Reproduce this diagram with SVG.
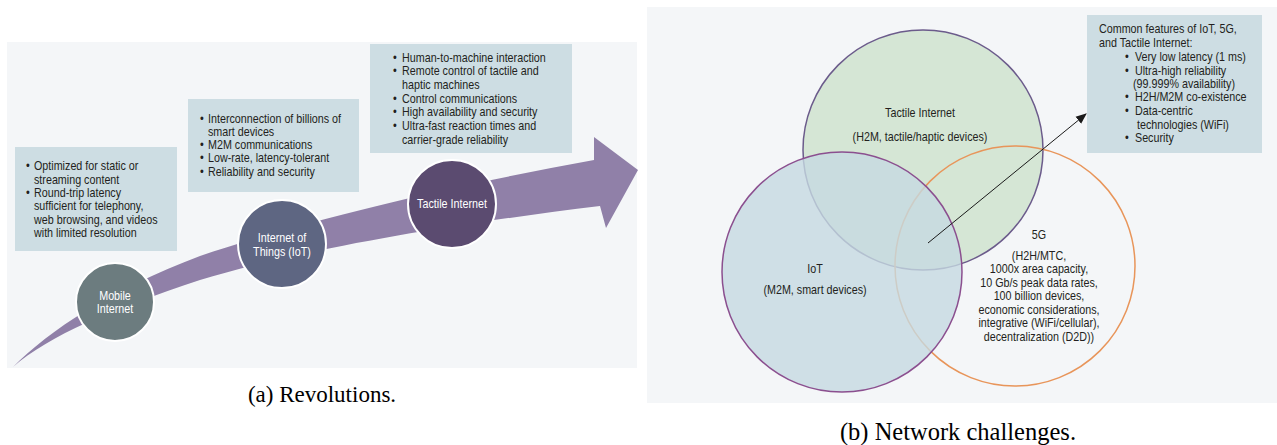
<svg xmlns="http://www.w3.org/2000/svg" width="1277" height="445" viewBox="0 0 1277 445">
<style>
.t{font-family:"Liberation Sans",Arial,sans-serif;font-size:12.5px;fill:#231f20}
.w{font-family:"Liberation Sans",Arial,sans-serif;font-size:12.5px;fill:#ffffff;text-anchor:middle}
.c{text-anchor:middle}
.cap{font-family:"Liberation Serif","Times New Roman",serif;fill:#000;text-anchor:middle}
.box{fill:#cddde3}
.bg{fill:#f4f6f8}
.node{stroke:#ffffff;stroke-width:2}
</style>
<defs>
<marker id="ah" viewBox="0 0 10 10" refX="9" refY="5" markerWidth="11" markerHeight="11" markerUnits="userSpaceOnUse" orient="auto">
<path d="M0,1 L10,5 L0,9 z" fill="#1a1a1a"/>
</marker>
</defs>
<rect width="1277" height="445" fill="#ffffff"/>
<rect class="bg" x="7" y="42" width="630" height="326"/>
<rect class="bg" x="647" y="7" width="630" height="396"/>
<g id="venn-tactile">
<circle cx="923" cy="150" r="120" fill="#d5e6d5" stroke="#6b5b8b" stroke-width="1.5"/>
<text class="t c" transform="translate(920,117) scale(0.86 1)">Tactile Internet</text>
<text class="t c" transform="translate(920,141) scale(0.86 1)">(H2M, tactile/haptic devices)</text>
</g>
<g id="venn-5g">
<circle cx="1015" cy="266" r="120" fill="none" stroke="#e8955a" stroke-width="1.5"/>
<text class="t c" transform="translate(1039,239) scale(0.86 1)">5G</text>
<text class="t c" transform="translate(1039,260) scale(0.86 1)">(H2H/MTC,</text>
<text class="t c" transform="translate(1039,273) scale(0.86 1)">1000x area capacity,</text>
<text class="t c" transform="translate(1039,287) scale(0.86 1)">10 Gb/s peak data rates,</text>
<text class="t c" transform="translate(1039,300) scale(0.86 1)">100 billion devices,</text>
<text class="t c" transform="translate(1039,314) scale(0.86 1)">economic considerations,</text>
<text class="t c" transform="translate(1039,327) scale(0.86 1)">integrative (WiFi/cellular),</text>
<text class="t c" transform="translate(1039,341) scale(0.86 1)">decentralization (D2D))</text>
</g>
<g id="venn-iot">
<circle cx="842" cy="272" r="120" fill="#c6dae1" fill-opacity="0.8" stroke="none"/>
<circle cx="842" cy="272" r="120" fill="none" stroke="#8b4f8f" stroke-width="1.5"/>
<text class="t c" transform="translate(815,273) scale(0.86 1)">IoT</text>
<text class="t c" transform="translate(815,294) scale(0.86 1)">(M2M, smart devices)</text>
</g>
<g id="connectors">
<path id="timeline-arrow" d="M13,367 C50,330 110,290 200,256 C300,222 450,186 594,160 L594,137 L638,170 L606,228 L600,206 C450,224 290,252 200,280 C110,310 50,335 13,367 Z" fill="#9080a8"/>
<line id="common-arrow" x1="928" y1="243" x2="1086" y2="114" stroke="#1a1a1a" stroke-width="1" marker-end="url(#ah)"/>
</g>
<g id="box-mobile">
<rect class="box" x="15" y="147" width="162" height="104"/>
<text class="t" transform="translate(26,170) scale(0.86 1)">•<tspan x="9.3">Optimized for static or</tspan></text>
<text class="t" transform="translate(34,183.5) scale(0.86 1)">streaming content</text>
<text class="t" transform="translate(26,197) scale(0.86 1)">•<tspan x="9.3">Round-trip latency</tspan></text>
<text class="t" transform="translate(34,210) scale(0.86 1)">sufficient for telephony,</text>
<text class="t" transform="translate(34,224) scale(0.86 1)">web browsing, and videos</text>
<text class="t" transform="translate(34,237) scale(0.86 1)">with limited resolution</text>
</g>
<g id="box-iot">
<rect class="box" x="188" y="99" width="171" height="93"/>
<text class="t" transform="translate(200,122.5) scale(0.86 1)">•<tspan x="9.3">Interconnection of billions of</tspan></text>
<text class="t" transform="translate(208,136) scale(0.86 1)">smart devices</text>
<text class="t" transform="translate(200,149) scale(0.86 1)">•<tspan x="9.3">M2M communications</tspan></text>
<text class="t" transform="translate(200,162) scale(0.86 1)">•<tspan x="9.3">Low-rate, latency-tolerant</tspan></text>
<text class="t" transform="translate(200,175.5) scale(0.86 1)">•<tspan x="9.3">Reliability and security</tspan></text>
</g>
<g id="box-tactile">
<rect class="box" x="370" y="44" width="202" height="109"/>
<text class="t" transform="translate(393,62) scale(0.86 1)">•<tspan x="10.5">Human-to-machine interaction</tspan></text>
<text class="t" transform="translate(393,75) scale(0.86 1)">•<tspan x="10.5">Remote control of tactile and</tspan></text>
<text class="t" transform="translate(402,88.5) scale(0.86 1)">haptic machines</text>
<text class="t" transform="translate(393,102.5) scale(0.86 1)">•<tspan x="10.5">Control communications</tspan></text>
<text class="t" transform="translate(393,116) scale(0.86 1)">•<tspan x="10.5">High availability and security</tspan></text>
<text class="t" transform="translate(393,130) scale(0.86 1)">•<tspan x="10.5">Ultra-fast reaction times and</tspan></text>
<text class="t" transform="translate(402,143.5) scale(0.86 1)">carrier-grade reliability</text>
</g>
<g id="node-mobile">
<circle class="node" cx="115" cy="302" r="39" fill="#6c7c7f"/>
<text class="w" transform="translate(115,300) scale(0.86 1)">Mobile</text>
<text class="w" transform="translate(115,313) scale(0.86 1)">Internet</text>
</g>
<g id="node-iot">
<circle class="node" cx="282" cy="244" r="44" fill="#5e6682"/>
<text class="w" transform="translate(282,242) scale(0.86 1)">Internet of</text>
<text class="w" transform="translate(282,256) scale(0.86 1)">Things (IoT)</text>
</g>
<g id="node-tactile">
<circle class="node" cx="452" cy="204" r="44" fill="#5b4b70"/>
<text class="w" transform="translate(452,207.5) scale(0.86 1)">Tactile Internet</text>
</g>
<g id="box-common">
<rect class="box" x="1087" y="15" width="175" height="138"/>
<text class="t" transform="translate(1099,33) scale(0.86 1)">Common features of IoT, 5G,</text>
<text class="t" transform="translate(1099,47) scale(0.86 1)">and Tactile Internet:</text>
<text class="t" transform="translate(1125,61) scale(0.86 1)">•<tspan x="11.6">Very low latency (1 ms)</tspan></text>
<text class="t" transform="translate(1125,75) scale(0.86 1)">•<tspan x="11.6">Ultra-high reliability</tspan></text>
<text class="t" transform="translate(1133,87.5) scale(0.86 1)">(99.999% availability)</text>
<text class="t" transform="translate(1125,101) scale(0.86 1)">•<tspan x="11.6">H2H/M2M co-existence</tspan></text>
<text class="t" transform="translate(1125,115) scale(0.86 1)">•<tspan x="11.6">Data-centric</tspan></text>
<text class="t" transform="translate(1137,129) scale(0.86 1)">technologies (WiFi)</text>
<text class="t" transform="translate(1125,141.5) scale(0.86 1)">•<tspan x="11.6">Security</tspan></text>
</g>
<text class="cap" x="322" y="402" font-size="23">(a) Revolutions.</text>
<text class="cap" x="958" y="440" font-size="24.5">(b) Network challenges.</text>
</svg>
